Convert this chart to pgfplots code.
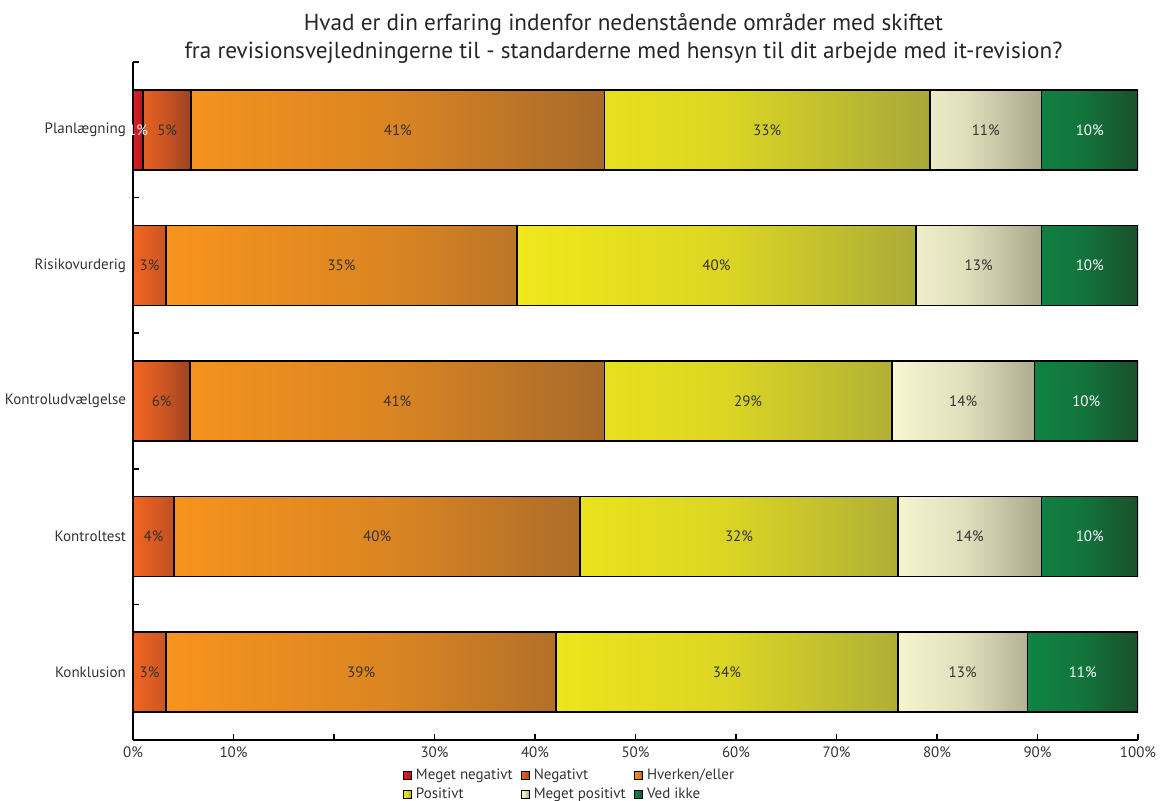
\documentclass[border=0pt]{standalone}
\usepackage{fontspec}
\setmainfont{PT Sans}
\usepackage{pgfplots}
\pgfplotsset{compat=1.18}
\definecolor{txt}{HTML}{333333}
\definecolor{mnL}{HTML}{E31E24}\definecolor{mnR}{HTML}{A81C22}
\definecolor{ngL}{HTML}{F26522}\definecolor{ngR}{HTML}{9A4222}
\definecolor{hvL}{HTML}{F7941D}\definecolor{hvR}{HTML}{A86A2A}
\definecolor{poL}{HTML}{F0E81A}\definecolor{poR}{HTML}{A8A83A}
\definecolor{mpL}{HTML}{F9F7D2}\definecolor{mpR}{HTML}{A8A88A}
\definecolor{viL}{HTML}{0F8443}\definecolor{viR}{HTML}{1B4F2B}
\begin{document}
\begin{tikzpicture}
\path[use as bounding box] (-66.5pt,-30pt) rectangle (513.5pt,370pt);
\begin{axis}[
  scale only axis, width=502.5pt, height=339pt,
  xbar stacked, bar width=40pt,
  xmin=0, xmax=100, ymin=-0.5, ymax=4.5,
  axis x line*=bottom, axis y line*=left,
  axis line style={-, line width=0.9pt, black},
  xtick={0,10,...,100},
  xticklabels={0\%,10\%,{},30\%,40\%,50\%,60\%,70\%,80\%,90\%,100\%},
  ytick={-0.5,0.5,1.5,2.5,3.5,4.5}, yticklabels={},
  extra y ticks={0,1,2,3,4},
  extra y tick labels={Konklusion,Kontroltest,Kontroludvælgelse,Risikovurderig,Planlægning},
  extra y tick style={major tick length=0pt},
  tick align=inside, major tick length=3pt,
  tick style={black, line width=0.8pt},
  ticklabel style={font=\fontsize{7.5}{9}\selectfont, text=txt},
  title={Hvad er din erfaring indenfor nedenstående områder med skiftet\\fra revisionsvejledningerne til - standarderne med hensyn til dit arbejde med it-revision?},
  title style={align=center, font=\fontsize{11.6}{14}\selectfont, text=black!85, at={(0.488,1)}, anchor=south, yshift=-10pt},
  point meta=explicit symbolic,
  nodes near coords,
  every node near coord/.append style={font=\fontsize{7.5}{9}\selectfont, text=txt, anchor=center},
  legend columns=3,
  legend style={at={(0.268,-0.036)}, anchor=north west, draw=none, fill=none,
    font=\fontsize{7.5}{9}\selectfont, text=txt, inner sep=0pt, row sep=-1.5pt,
    /tikz/every even column/.append style={column sep=2pt}, cells={anchor=west}},
  legend image code/.code={\draw[#1,draw=black,line width=0.6pt] (0pt,-2pt) rectangle (4pt,2pt);},
]
\addplot[draw=black, line width=0.8pt, left color=mnL, right color=mnR, every node near coord/.append style={text=white}]
  coordinates {(1,4) [1\%] (0,3) [\relax] (0,2) [\relax] (0,1) [\relax] (0,0) [\relax]};
\addlegendentry{Meget negativt}
\addplot[draw=black, line width=0.8pt, left color=ngL, right color=ngR, middle color=ngL!60!ngR]
  coordinates {(4.8,4) [5\%] (3.3,3) [3\%] (5.7,2) [6\%] (4.1,1) [4\%] (3.3,0) [3\%]};
\addlegendentry{Negativt}
\addplot[draw=black, line width=0.8pt, left color=hvL, right color=hvR, middle color=hvL!65!hvR]
  coordinates {(41.1,4) [41\%] (34.9,3) [35\%] (41.2,2) [41\%] (40.4,1) [40\%] (38.8,0) [39\%]};
\addlegendentry{Hverken/eller}
\addplot[draw=black, line width=0.8pt, left color=poL, right color=poR, middle color=poL!72!poR]
  coordinates {(32.4,4) [33\%] (39.7,3) [40\%] (28.6,2) [29\%] (31.6,1) [32\%] (34.0,0) [34\%]};
\addlegendentry{Positivt}
\addplot[draw=black, line width=0.8pt, left color=mpL, right color=mpR, middle color=mpL!68!mpR]
  coordinates {(11.1,4) [11\%] (12.5,3) [13\%] (14.2,2) [14\%] (14.3,1) [14\%] (12.9,0) [13\%]};
\addlegendentry{Meget positivt}
\addplot[draw=black, line width=0.8pt, left color=viL, right color=viR, middle color=viL!70!viR, every node near coord/.append style={text=white}]
  coordinates {(9.6,4) [10\%] (9.6,3) [10\%] (10.3,2) [10\%] (9.6,1) [10\%] (11.0,0) [11\%]};
\addlegendentry{Ved ikke}
\end{axis}
\end{tikzpicture}
\end{document}
